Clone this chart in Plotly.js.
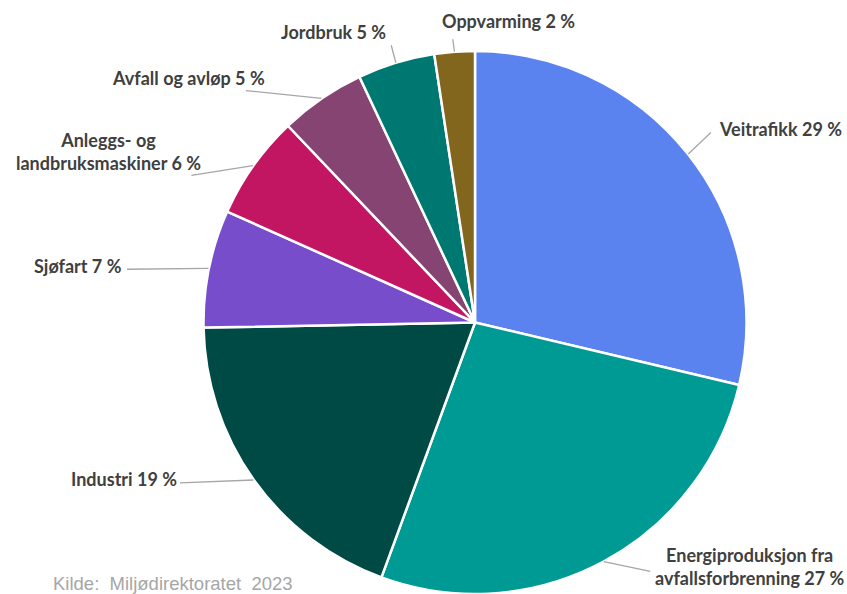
<!DOCTYPE html>
<html>
<head>
<meta charset="utf-8">
<script src="https://cdn.plot.ly/plotly-3.0.1.min.js"></script>
<style>
    html, body { margin: 0; padding: 0; background: #fff; }
</style>
</head>
<body>
<div id="plotId" style="width:847px;height:594px;"></div>
<script>
// share of emissions per source (clockwise from 12 o'clock)
const sources = ['Veitrafikk', 'Energiproduksjon fra<br>avfallsforbrenning', 'Industri', 'Sjøfart',
    'Anleggs- og<br>landbruksmaskiner', 'Avfall og avløp', 'Jordbruk', 'Oppvarming'];
const shares = [28.7, 26.9, 19.1, 7.0, 6.2, 5.1, 4.6, 2.4];
const sliceColors = ['#5b83ef', '#009a94', '#004a45', '#774dcc', '#c21662', '#864473', '#007872', '#83661d'];

// label placement: leader line tail (px from slice edge) and text shift
const leaderTail = [[24, -23], [48, 10], [-75, 3], [-83, 1], [-63, 10], [-77, -8], [-5, -19], [-2, -14]];
const labelShift = [[29, 25], [146, -5], [-74, 1], [-84, 2], [-50, 14], [-54, 20], [-8, 31], [54, 31]];
const labelAnchor = ['left', 'center', 'right', 'right', 'right', 'right', 'right', 'center'];

const labelFont = { family: 'Lato, "Open Sans", sans-serif', size: 18, color: '#404040', weight: 'bold' };

const total = shares.reduce((a, b) => a + b, 0);
let cumulative = 0;
const annotations = [];

shares.forEach((v, i) => {
    // middle of the slice, clockwise from the top, on the rim of the pie
    const mid = (cumulative + v / 2) / total * 2 * Math.PI;
    cumulative += v;
    const x = 0.5 + 0.5 * Math.sin(mid);
    const y = 0.5 + 0.5 * Math.cos(mid);

    annotations.push({
        xref: 'paper', yref: 'paper', x, y,
        text: '', showarrow: true, arrowhead: 0, arrowwidth: 1.3, arrowcolor: '#a6a6a6',
        standoff: 0, ax: leaderTail[i][0], ay: leaderTail[i][1]
    });
    annotations.push({
        xref: 'paper', yref: 'paper', x, y,
        text: '<b>' + sources[i] + ' ' + Math.round(v) + ' %</b>',
        showarrow: false, xanchor: labelAnchor[i], yanchor: 'middle', align: 'center',
        xshift: labelShift[i][0], yshift: labelShift[i][1],
        font: labelFont
    });
});

annotations.push({
    xref: 'paper', yref: 'paper', x: -0.28, y: 0.02,
    xanchor: 'left', yanchor: 'middle', showarrow: false,
    text: 'Kilde:\u00a0 Miljødirektoratet\u00a0 2023',
    font: { family: '"Liberation Sans", Arial, sans-serif', size: 18.5, color: '#a6a6a6' }
});

const trace = {
    type: 'pie',
    labels: sources,
    values: shares,
    sort: false,
    direction: 'clockwise',
    rotation: 0,
    textinfo: 'none',
    hoverinfo: 'label+percent',
    marker: { colors: sliceColors, line: { color: '#ffffff', width: 2.5 } }
};

const layout = {
    width: 847,
    height: 594,
    // square plot area so the pie fills it
    margin: { l: 203, r: 100, t: 51, b: 0 },
    showlegend: false,
    paper_bgcolor: '#ffffff',
    annotations
};

Plotly.newPlot('plotId', [trace], layout, { displayModeBar: false, staticPlot: true });
</script>
</body>
</html>
